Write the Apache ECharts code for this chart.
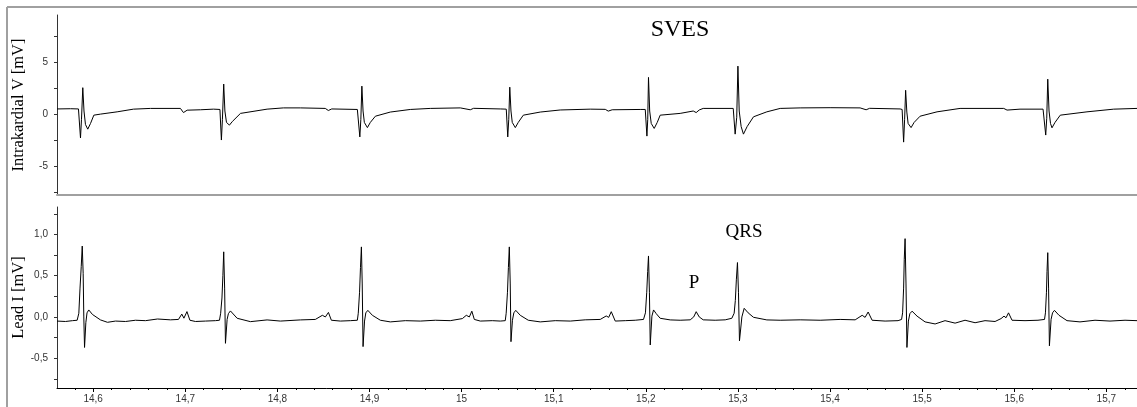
<!DOCTYPE html>
<html lang="de">
<head>
    <meta charset="UTF-8">
    <title>SVES</title>
    <script src="https://cdn.jsdelivr.net/npm/echarts@6/dist/echarts.min.js"></script>
</head>
<style>
    * {
        margin: 0px;
        padding: 0px;
    }
    html, body {
        width: 100%;
        height: 100%;
        overflow: hidden;
        background: #fff;
    }
    .container {
        width: 1137px;
        height: 407px;
    }
</style>
<body>
    <div class="container"></div>
</body>
<script>
    // time [s], value [mV]
    let intraV = [
        [14.5607,0.50],[14.5754,0.52],[14.5840,0.50],[14.5851,0.40],[14.5862,-2.30],[14.5873,-0.50],[14.5887,2.55],[14.5900,0.30],
        [14.5916,-1.00],[14.5941,-1.45],[14.5971,-0.90],[14.6007,-0.10],[14.6079,0.00],[14.6260,0.22],[14.6437,0.48],[14.6622,0.55],
        [14.6947,0.55],[14.6980,0.15],[14.7020,0.38],[14.7164,0.42],[14.7306,0.48],[14.7376,0.45],
        [14.7392,-2.50],[14.7403,-0.50],[14.7417,2.90],[14.7430,0.30],[14.7447,-0.80],[14.7479,-1.06],[14.7512,-0.70],[14.7599,0.07],
        [14.7888,0.48],[14.8065,0.60],[14.8250,0.60],[14.8520,0.55],[14.8553,0.35],[14.8590,0.50],[14.8868,0.45],[14.8885,0.40],
        [14.8895,-2.20],[14.8906,-0.50],[14.8917,2.70],[14.8930,0.30],[14.8944,-0.80],[14.8977,-1.30],[14.9009,-0.80],[14.9064,-0.20],
        [14.9226,0.20],[14.9443,0.45],[14.9660,0.55],[14.9986,0.60],[15.0094,0.42],[15.0130,0.56],[15.0420,0.50],[15.0485,0.48],
        [15.0501,-2.20],[15.0512,-0.50],[15.0523,2.60],[15.0536,0.30],[15.0550,-0.80],[15.0583,-1.30],[15.0615,-0.80],[15.0670,-0.10],
        [15.0854,0.20],[15.1071,0.40],[15.1397,0.48],[15.1560,0.46],[15.1592,0.29],[15.1635,0.42],[15.1939,0.45],[15.1994,0.45],
        [15.2012,-2.12],[15.2021,-0.50],[15.2029,3.54],[15.2042,0.30],[15.2059,-0.90],[15.2091,-1.38],[15.2124,-0.80],[15.2156,-0.10],
        [15.2373,0.07],[15.2515,0.30],[15.2547,0.15],[15.2580,0.40],[15.2623,0.55],[15.2949,0.55],
        [15.2970,-1.93],[15.2987,-0.30],[15.3000,4.63],[15.3014,0.30],[15.3035,-1.20],[15.3060,-1.93],[15.3100,-1.20],[15.3169,-0.26],
        [15.3314,0.22],[15.3459,0.55],[15.3676,0.60],[15.4001,0.62],[15.4327,0.60],[15.4392,0.42],[15.4430,0.56],[15.4761,0.50],[15.4783,0.45],
        [15.4799,-2.70],[15.4810,-0.50],[15.4821,2.30],[15.4834,0.20],[15.4848,-0.90],[15.4880,-1.30],[15.4913,-0.80],[15.4978,-0.20],
        [15.5162,0.22],[15.5412,0.55],[15.5886,0.55],[15.5922,0.39],[15.6063,0.48],[15.6313,0.48],
        [15.6342,-2.02],[15.6353,-0.40],[15.6364,3.37],[15.6378,0.30],[15.6394,-0.90],[15.6410,-1.32],[15.6443,-0.80],[15.6500,-0.10],
        [15.6790,0.22],[15.7080,0.48],[15.7333,0.55]
    ];

    let leadI = [
        [14.5607,-0.050],[14.5699,-0.055],[14.5775,-0.045],[14.5826,-0.040],[14.5844,0.045],[14.5857,0.35],[14.5870,0.61],[14.5881,0.86],
        [14.5891,0.53],[14.5898,0.00],[14.5906,-0.37],[14.5920,-0.07],[14.5933,0.05],[14.5952,0.085],[14.5992,0.03],[14.6079,-0.036],
        [14.6155,-0.065],[14.6242,-0.050],[14.6351,-0.055],[14.6459,-0.040],[14.6568,-0.045],[14.6698,-0.025],[14.6839,-0.035],[14.6926,-0.030],
        [14.6962,0.035],[14.6985,-0.015],[14.7018,0.065],[14.7050,-0.040],[14.7110,-0.055],[14.7219,-0.050],[14.7327,-0.045],[14.7371,-0.040],
        [14.7384,0.045],[14.7398,0.23],[14.7408,0.50],[14.7417,0.79],[14.7427,0.35],[14.7436,-0.32],[14.7454,-0.03],[14.7468,0.04],
        [14.7490,0.073],[14.7563,-0.016],[14.7707,-0.057],[14.7888,-0.036],[14.8033,-0.050],[14.8250,-0.036],[14.8412,-0.030],[14.8488,0.020],
        [14.8521,0.000],[14.8554,0.055],[14.8586,-0.040],[14.8684,-0.050],[14.8792,-0.045],[14.8868,-0.040],
        [14.8878,0.045],[14.8892,0.30],[14.8902,0.60],[14.8912,0.85],[14.8921,0.40],[14.8930,-0.36],[14.8946,-0.05],[14.8960,0.05],
        [14.8982,0.08],[14.9031,0.02],[14.9118,-0.040],[14.9226,-0.060],[14.9389,-0.045],[14.9552,-0.050],[14.9715,-0.040],[14.9877,-0.045],
        [15.0008,-0.020],[15.0051,0.020],[15.0084,0.000],[15.0111,0.070],[15.0138,-0.030],[15.0203,-0.050],[15.0333,-0.045],[15.0420,-0.050],[15.0474,-0.045],
        [15.0484,0.045],[15.0498,0.30],[15.0508,0.60],[15.0518,0.85],[15.0528,0.40],[15.0536,-0.30],[15.0552,-0.04],[15.0567,0.05],
        [15.0588,0.08],[15.0637,0.02],[15.0724,-0.040],[15.0854,-0.060],[15.1017,-0.045],[15.1180,-0.050],[15.1342,-0.035],[15.1505,-0.030],
        [15.1570,0.012],[15.1597,-0.005],[15.1625,0.064],[15.1668,-0.050],[15.1777,-0.045],[15.1885,-0.040],[15.1975,-0.030],
        [15.1996,0.05],[15.2010,0.30],[15.2020,0.55],[15.2029,0.74],[15.2039,0.30],[15.2048,-0.34],[15.2066,0.01],[15.2084,0.085],
        [15.2113,0.04],[15.2156,-0.016],[15.2265,-0.036],[15.2373,-0.040],[15.2482,-0.035],[15.2520,0.000],[15.2547,0.064],[15.2580,0.000],
        [15.2623,-0.035],[15.2753,-0.040],[15.2862,-0.035],[15.2934,-0.016],
        [15.2959,0.045],[15.2972,0.20],[15.2983,0.45],[15.2995,0.66],[15.3006,0.30],[15.3017,-0.29],[15.3043,0.00],[15.3068,0.105],
        [15.3111,0.05],[15.3169,-0.004],[15.3314,-0.036],[15.3459,-0.040],[15.3676,-0.035],[15.3893,-0.040],[15.4110,-0.030],[15.4273,-0.035],
        [15.4349,0.020],[15.4381,-0.005],[15.4414,0.060],[15.4457,-0.040],[15.4598,-0.050],[15.4739,-0.045],[15.4777,-0.030],
        [15.4788,0.05],[15.4799,0.35],[15.4806,0.70],[15.4815,0.95],[15.4825,0.40],[15.4835,-0.37],[15.4851,-0.05],[15.4867,0.04],
        [15.4891,0.07],[15.4945,0.01],[15.5032,-0.060],[15.5141,-0.085],[15.5249,-0.045],[15.5358,-0.075],[15.5466,-0.040],[15.5575,-0.070],
        [15.5683,-0.045],[15.5792,-0.055],[15.5857,-0.020],[15.5889,0.010],[15.5911,-0.010],[15.5938,0.050],[15.5976,-0.040],[15.6117,-0.045],
        [15.6258,-0.040],[15.6329,-0.030],
        [15.6339,0.05],[15.6350,0.30],[15.6356,0.55],[15.6364,0.78],[15.6373,0.35],[15.6382,-0.35],[15.6400,-0.03],[15.6416,0.05],
        [15.6437,0.08],[15.6486,0.02],[15.6573,-0.045],[15.6714,-0.060],[15.6877,-0.040],[15.7040,-0.050],[15.7203,-0.040],[15.7333,-0.045]
    ];

    let timeRange = [14.5607, 15.7333];
    let xTicks = [14.6, 14.7, 14.8, 14.9, 15.0, 15.1, 15.2, 15.3, 15.4, 15.5, 15.6, 15.7];
    let intraRange = [-7.8, 9.56];
    let intraLabels = [-5, 0, 5];
    let intraTicks = [-7.5, -5, -2.5, 0, 2.5, 5, 7.5];
    let leadRange = [-0.862, 1.334];
    let leadLabels = [-0.5, 0, 0.5, 1.0];
    let leadTicks = [-0.75, -0.5, -0.25, 0, 0.25, 0.5, 0.75, 1.0, 1.25];

    let minorTicks = [];
    for (let i = -2; i <= 56; i++) {
        let v = Math.round((14.6 + i * 0.02) * 1000) / 1000;
        if (v > timeRange[0] && v < timeRange[1]) minorTicks.push(v);
    }

    let container = document.querySelector(".container");
    let mycharts = echarts.init(container);

    let labelFont = {fontFamily: 'Liberation Sans', fontSize: 10, color: '#333'};
    let nameFont = {fontFamily: 'Liberation Serif', fontSize: 16.5, color: '#000'};
    let comma = v => String(Math.round(v * 10) / 10).replace('.', ',');

    let option = {
        animation: false,
        backgroundColor: '#fff',
        grid: [
            {left: 57, right: 0, top: 15, height: 180, outerBoundsMode: 'none'},
            {left: 57, right: 0, top: 207, height: 181, outerBoundsMode: 'none'}
        ],
        xAxis: [
            {
                type: 'value', gridIndex: 0, min: timeRange[0], max: timeRange[1], position: 'bottom',
                axisLine: {onZero: false, lineStyle: {color: '#a0a0a0', width: 2}},
                axisTick: {show: false}, axisLabel: {show: false}, splitLine: {show: false}
            },
            {
                type: 'value', gridIndex: 1, min: timeRange[0], max: timeRange[1], position: 'bottom',
                axisLine: {onZero: false, lineStyle: {color: '#000', width: 1}},
                axisTick: {customValues: xTicks, length: 4, lineStyle: {color: '#000'}},
                axisLabel: Object.assign({customValues: xTicks, margin: 6, formatter: comma}, labelFont),
                splitLine: {show: false}
            },
            {
                type: 'value', gridIndex: 1, min: timeRange[0], max: timeRange[1], position: 'bottom', offset: 0,
                axisLine: {show: false, onZero: false},
                axisTick: {customValues: minorTicks, length: 2, lineStyle: {color: '#000'}},
                axisLabel: {show: false}, splitLine: {show: false}
            }
        ],
        yAxis: [
            {
                type: 'value', gridIndex: 0, min: intraRange[0], max: intraRange[1],
                name: 'Intrakardial V [mV]', nameLocation: 'middle', nameGap: 30, nameMoveOverlap: false, nameTextStyle: nameFont,
                axisLine: {show: true, onZero: false, lineStyle: {color: '#333'}},
                axisTick: {show: true, customValues: intraTicks, length: 3, lineStyle: {color: '#333'}},
                axisLabel: Object.assign({customValues: intraLabels, margin: 9, formatter: v => String(v)}, labelFont),
                splitLine: {show: false}
            },
            {
                type: 'value', gridIndex: 1, min: leadRange[0], max: leadRange[1],
                name: 'Lead I [mV]', nameLocation: 'middle', nameGap: 30, nameMoveOverlap: false, nameTextStyle: nameFont,
                axisLine: {show: true, onZero: false, lineStyle: {color: '#333'}},
                axisTick: {show: true, customValues: leadTicks, length: 3, lineStyle: {color: '#333'}},
                axisLabel: Object.assign({customValues: leadLabels, margin: 9, formatter: v => v.toFixed(1).replace('.', ',')}, labelFont),
                splitLine: {show: false}
            }
        ],
        series: [
            {
                name: 'Intrakardial V', type: 'line', xAxisIndex: 0, yAxisIndex: 0, data: intraV,
                showSymbol: false, lineStyle: {color: '#000', width: 1}, clip: true
            },
            {
                name: 'Lead I', type: 'line', xAxisIndex: 1, yAxisIndex: 1, data: leadI,
                showSymbol: false, lineStyle: {color: '#000', width: 1}, clip: true
            }
        ],
        graphic: [
            {type: 'line', shape: {x1: 7, y1: 7, x2: 7, y2: 407}, style: {stroke: '#a0a0a0', lineWidth: 2}},
            {type: 'line', shape: {x1: 7, y1: 7, x2: 1137, y2: 7}, style: {stroke: '#a0a0a0', lineWidth: 2}},
            {type: 'text', x: 680, y: 30, style: {text: 'SVES', font: '24px "Liberation Serif"', fill: '#000', align: 'center', verticalAlign: 'middle'}},
            {type: 'text', x: 744, y: 232, style: {text: 'QRS', font: '19px "Liberation Serif"', fill: '#000', align: 'center', verticalAlign: 'middle'}},
            {type: 'text', x: 694, y: 283, style: {text: 'P', font: '19px "Liberation Serif"', fill: '#000', align: 'center', verticalAlign: 'middle'}}
        ]
    };
    mycharts.setOption(option);
</script>
</html>
